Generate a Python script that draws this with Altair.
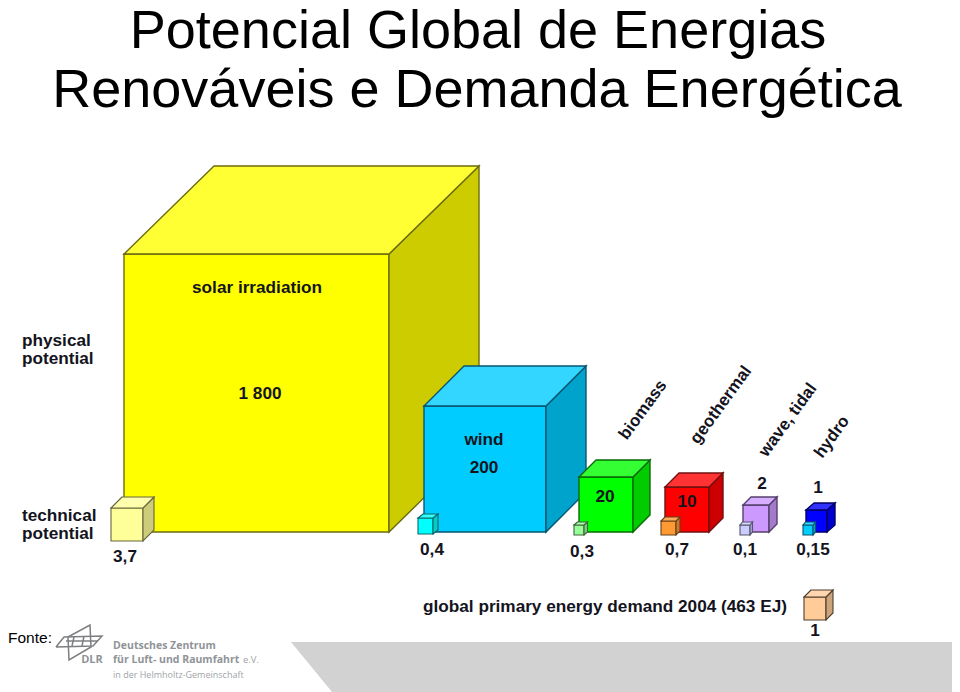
import altair as alt
import pandas as pd

W, H = 944, 684
names  = ["solar","tech_solar","wind","tech_wind","bio","tech_bio","geo","tech_geo","wave","tech_wave","hydro","tech_hydro","demand"]
left   = [124,111,424,418,579,574,665,661,743,740,806,803,804]
right  = [389,143,546,433,633,584,709,676,769,750,827,813,826]
top    = [254,508,406,518,477,525,487,521,505,525,510,525,597]
bottom = [532,541,532,534,532,535,532,535,532,535,532,535,620]
dx     = [90,11,40,5,17,3.5,14,4,8,2.5,8,2.5,7]
dy     = [88,11,40,4,17,3,14,4,8,3,7,3,7]
front  = ["#ffff00","#ffff99","#00ccff","#00ffff","#00ff00","#99ff99","#ff0000","#ff9933","#cc99ff","#ccccff","#0000ff","#00ccff","#ffcc99"]
upper  = ["#ffff33","#ffffad","#33d6ff","#33ffff","#33ff33","#adffad","#ff3333","#ffad5c","#d6adff","#d6d6ff","#3333ff","#33d6ff","#ffd6ad"]
flank  = ["#cccc00","#cccc7a","#00a3cc","#00cccc","#00cc00","#7acc7a","#cc0000","#cc7a29","#a37acc","#a3a3cc","#0000cc","#00a3cc","#cca37a"]
edge   = ["#6b6b10","#66663d","#0a5570","#0a6a6a","#0a6a0a","#3d663d","#701010","#66401a","#55406b","#55556b","#000066","#0a5570","#4d3d2e"]

# text: string, x, y, align
t_text  = ["solar irradiation","1 800","wind","200","20","10","2","1","physical","potential","technical","potential",
           "3,7","0,4","0,3","0,7","0,1","0,15","global primary energy demand 2004 (463 EJ)","1"]
t_x     = [257,260,484,484,605,687,762,818,22,22,22,22,125,432,582,677,745,813,423,815]
t_y     = [288,394,440,468,497,502,484,488,341,359,516,534,557,550,552,550,550,550,607,631]
t_align = ["center"]*8 + ["left"]*4 + ["center"]*6 + ["left","center"]

rot_text = ["biomass","geothermal","wave, tidal","hydro"]
rot_x    = [643,721,788,832]
rot_y    = [410,405,420,437]

title_text = ["Potencial Global de Energias","Renováveis e Demanda Energética"]
title_x    = [478,477]
title_y    = [48,107]

band_x  = [291,952]
band_x2 = [332,952]
band_y  = [642,692]

logo_text = ["Deutsches Zentrum","für Luft- und Raumfahrt","e.V.","in der Helmholtz-Gemeinschaft"]
logo_tx   = [113,113,243,113]
logo_ty   = [646,660,660,675]
logo_sz   = [10.5,10.5,9.5,9]
logo_w    = ["bold","bold","normal","normal"]
wing_x = [[56,64,102,93,56],[68,90,91,69,68],[66,98],[74,72],[84,82]]
wing_y = [[647,637,636,646,647],[637,625,647,660,637],[641,641],[637,646],[636,646]]

xs = alt.Scale(domain=[8,952], range=[0,W], nice=False, zero=False)
ys = alt.Scale(domain=[8,692], range=[0,H], nice=False, zero=False)
X = lambda f: alt.X(f, type="quantitative", scale=xs, axis=None)
Y = lambda f: alt.Y(f, type="quantitative", scale=ys, axis=None)

layers = []
band = pd.DataFrame({"y": band_y, "x": [band_x[0], band_x2[0]], "x2": [band_x[1], band_x2[1]]})
layers.append(alt.Chart(band).mark_area(orient="horizontal", color="#d2d2d2").encode(
    x=X("x"), x2="x2", y=Y("y")))

for i in range(len(names)):
    l, r, t, b, ox, oy = left[i], right[i], top[i], bottom[i], dx[i], dy[i]
    sw = 1.4 if i % 2 == 0 and i < 12 else 1.1
    face = pd.DataFrame({"x":[l],"x2":[r],"y":[t],"y2":[b]})
    layers.append(alt.Chart(face).mark_rect(fill=front[i], stroke=edge[i], strokeWidth=sw).encode(
        x=X("x"), x2="x2", y=Y("y"), y2="y2"))
    side = pd.DataFrame({"x":[r, r+ox],"y":[t, t-oy],"y2":[b, b-oy]})
    layers.append(alt.Chart(side).mark_area(fill=flank[i], stroke=edge[i], strokeWidth=sw).encode(
        x=X("x"), y=Y("y"), y2="y2"))
    cap = pd.DataFrame({"y":[t-oy, t],"x":[l+ox, l],"x2":[r+ox, r]})
    layers.append(alt.Chart(cap).mark_area(orient="horizontal", fill=upper[i], stroke=edge[i], strokeWidth=sw).encode(
        x=X("x"), x2="x2", y=Y("y")))

FONT = "Liberation Sans"
labels = pd.DataFrame({"s":t_text,"x":t_x,"y":t_y,"a":t_align})
for a in ["left","center"]:
    layers.append(alt.Chart(labels[labels.a==a]).mark_text(
        font=FONT, fontSize=17.2, fontWeight="bold", color="#14141e", align=a, baseline="middle"
    ).encode(x=X("x"), y=Y("y"), text="s:N"))

rot = pd.DataFrame({"s":rot_text,"x":rot_x,"y":rot_y})
layers.append(alt.Chart(rot).mark_text(
    font=FONT, fontSize=17, fontWeight="bold", color="#14141e", align="center", baseline="middle", angle=306
).encode(x=X("x"), y=Y("y"), text="s:N"))

titles = pd.DataFrame({"s":title_text,"x":title_x,"y":title_y})
layers.append(alt.Chart(titles).mark_text(
    font=FONT, fontSize=54, color="#000000", align="center", baseline="alphabetic"
).encode(x=X("x"), y=Y("y"), text="s:N"))

layers.append(alt.Chart(pd.DataFrame({"s":["Fonte:"],"x":[8],"y":[638]})).mark_text(
    font=FONT, fontSize=15.5, color="#000000", align="left", baseline="middle"
).encode(x=X("x"), y=Y("y"), text="s:N"))

for k in range(len(wing_x)):
    w = pd.DataFrame({"x":wing_x[k],"y":wing_y[k],"o":range(len(wing_x[k]))})
    layers.append(alt.Chart(w).mark_line(color="#7d7f82", strokeWidth=1.5).encode(
        x=X("x"), y=Y("y"), order="o:Q"))

logo = pd.DataFrame({"s":logo_text,"x":logo_tx,"y":logo_ty,"z":logo_sz,"w":logo_w})
for wt, col in [("bold","#8f9498"),("normal","#a0a4a8")]:
    sub = logo[logo.w==wt]
    layers.append(alt.Chart(sub).mark_text(
        font="Open Sans", fontWeight=wt, color=col, align="left", baseline="middle"
    ).encode(x=X("x"), y=Y("y"), text="s:N", size=alt.Size("z:Q", scale=None, legend=None)))
layers.append(alt.Chart(pd.DataFrame({"s":["DLR"],"x":[92],"y":[660]})).mark_text(
    font="Open Sans", fontSize=11, fontWeight="bold", color="#8f9498", align="center", baseline="middle"
).encode(x=X("x"), y=Y("y"), text="s:N"))

chart = alt.layer(*layers).properties(
    width=W, height=H, padding=0, autosize=alt.AutoSizeParams(type="none"), background="#ffffff"
).configure_view(stroke=None)
chart.save("out.html", embed_options={"renderer": "svg", "actions": False})
